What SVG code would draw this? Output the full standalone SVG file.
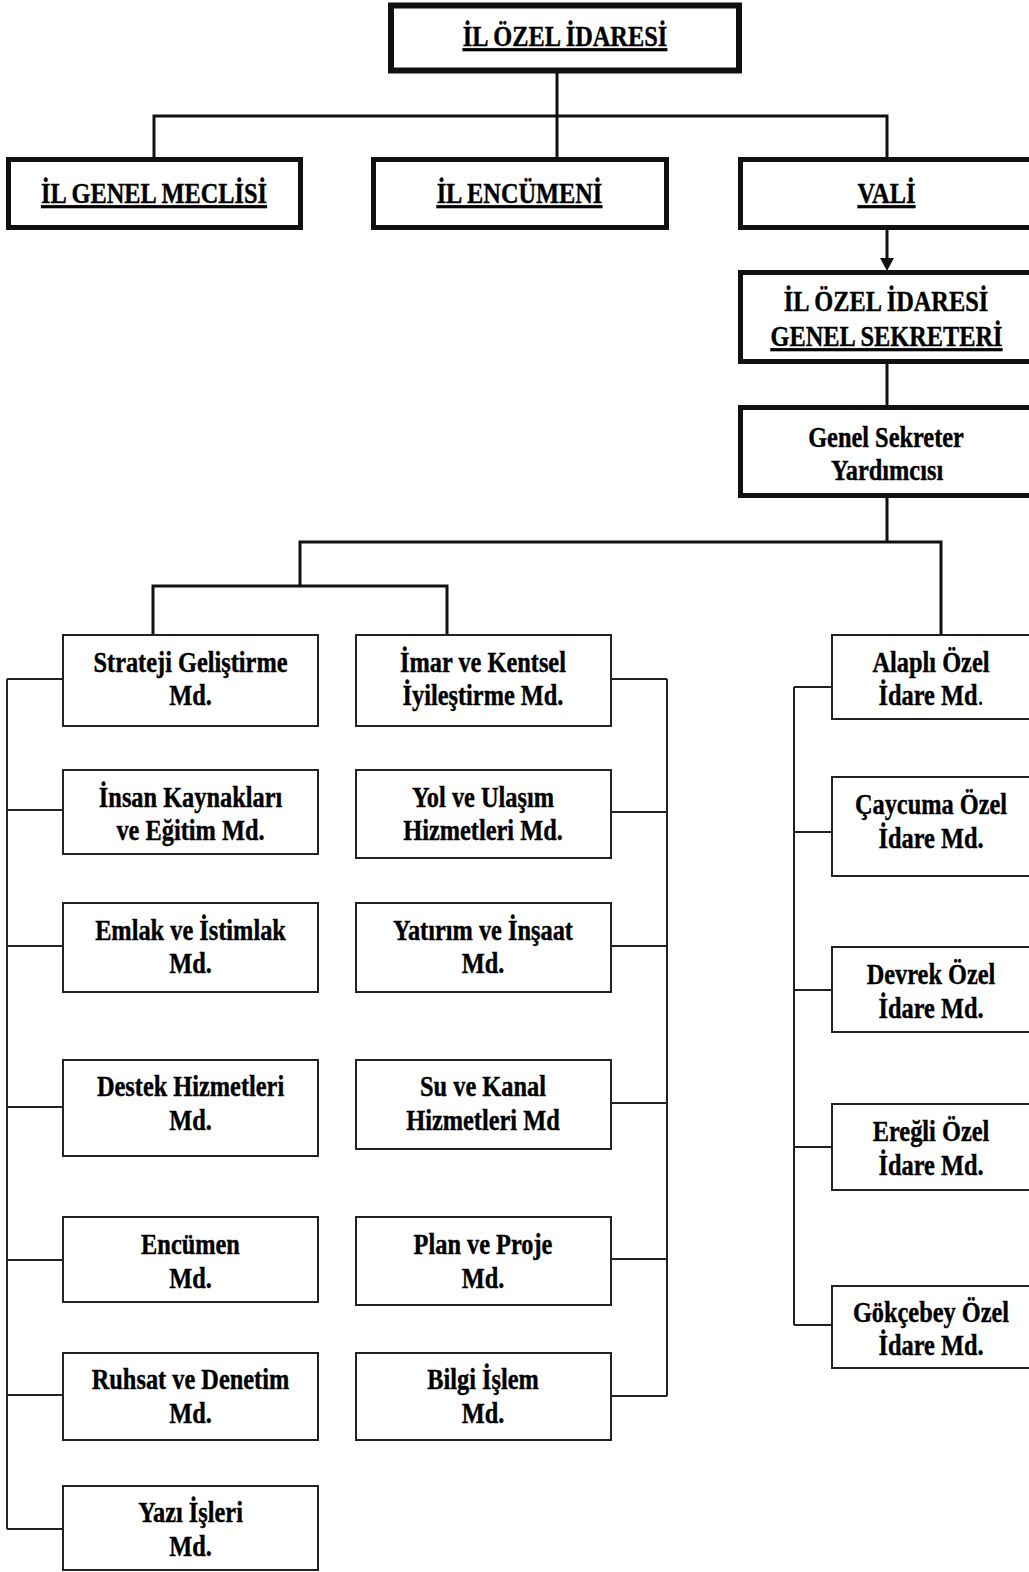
<svg xmlns="http://www.w3.org/2000/svg" width="1029" height="1572" viewBox="0 0 1029 1572">
<style>
  text { font-family: "Liberation Serif", "Times New Roman", serif; font-weight: bold; font-size: 29px; fill: #000; stroke: #000; stroke-width: 0.4; text-anchor: middle; transform-box: fill-box; transform-origin: center; transform: scaleX(0.84); }
  .u { text-decoration: underline; }
  .thick { fill: #fff; stroke: #111; stroke-width: 5; }
  .box { fill: #fff; stroke: #222; stroke-width: 2; }
  .c1 { fill: none; stroke: #111; stroke-width: 3; }
  .c2 { fill: none; stroke: #222; stroke-width: 2; }
</style>
<defs>
  <marker id="arr" markerUnits="userSpaceOnUse" markerWidth="14" markerHeight="14" refX="0" refY="7" orient="auto">
    <path d="M0,0 L13,7 L0,14 z" fill="#111"/>
  </marker>
</defs>
<rect width="1029" height="1572" fill="#fff"/>
<g id="connectors">
  <path class="c1" d="M557,73 V157"/>
  <path class="c1" d="M154,158 V116 H887 V158"/>
  <path class="c1" d="M887,230 V258" marker-end="url(#arr)"/>
  <path class="c1" d="M887,364 V405"/>
  <path class="c1" d="M887,498 V542"/>
  <path class="c1" d="M300,586 V542 H941 V634"/>
  <path class="c1" d="M153,634 V586 H447 V634"/>
  <path class="c2" d="M7,679 V1529 M7,679 H62 M7,810 H62 M7,946 H62 M7,1107 H62 M7,1260 H62 M7,1395 H62 M7,1529 H62"/>
  <path class="c2" d="M667,679 V1396 M612,679 H667 M612,812 H667 M612,946 H667 M612,1103 H667 M612,1259 H667 M612,1396 H667"/>
  <path class="c2" d="M794,687 V1325 M794,687 H831 M794,832 H831 M794,990 H831 M794,1147 H831 M794,1325 H831"/>
</g>
<g id="il-ozel-idaresi">
  <rect class="thick" x="391" y="5.5" width="348" height="65" style="stroke-width:6"/>
  <text class="u" x="565" y="46">İL ÖZEL İDARESİ</text>
</g>
<g id="il-genel-meclisi">
  <rect class="thick" x="8.5" y="159.5" width="292" height="68"/>
  <text class="u" x="154" y="203">İL GENEL MECLİSİ</text>
</g>
<g id="il-encumeni">
  <rect class="thick" x="373.5" y="159.5" width="293" height="68"/>
  <text class="u" x="519.5" y="203">İL ENCÜMENİ</text>
</g>
<g id="vali">
  <rect class="thick" x="740.5" y="159.5" width="300" height="68"/>
  <text class="u" x="886.5" y="203">VALİ</text>
</g>
<g id="genel-sekreter">
  <rect class="thick" x="740.5" y="272.5" width="300" height="89"/>
  <text x="886" y="311">İL ÖZEL İDARESİ</text>
  <text class="u" x="886.5" y="346">GENEL SEKRETERİ</text>
</g>
<g id="genel-sekreter-yardimcisi">
  <rect class="thick" x="740.5" y="407.5" width="300" height="88"/>
  <text x="886" y="447">Genel Sekreter</text>
  <text x="887" y="480">Yardımcısı</text>
</g>
<g id="strateji">
  <rect class="box" x="63" y="635" width="255" height="91"/>
  <text x="190.5" y="672">Strateji Geliştirme</text>
  <text x="190.5" y="705">Md.</text>
</g>
<g id="insan-kaynaklari">
  <rect class="box" x="63" y="770" width="255" height="84"/>
  <text x="190.5" y="807">İnsan Kaynakları</text>
  <text x="190.5" y="840">ve Eğitim Md.</text>
</g>
<g id="emlak">
  <rect class="box" x="63" y="903" width="255" height="89"/>
  <text x="190.5" y="940">Emlak ve İstimlak</text>
  <text x="190.5" y="973">Md.</text>
</g>
<g id="destek">
  <rect class="box" x="63" y="1060" width="255" height="96"/>
  <text x="190.5" y="1096">Destek Hizmetleri</text>
  <text x="190.5" y="1130">Md.</text>
</g>
<g id="encumen">
  <rect class="box" x="63" y="1217" width="255" height="85"/>
  <text x="190.5" y="1254">Encümen</text>
  <text x="190.5" y="1288">Md.</text>
</g>
<g id="ruhsat">
  <rect class="box" x="63" y="1353" width="255" height="87"/>
  <text x="190.5" y="1389">Ruhsat ve Denetim</text>
  <text x="190.5" y="1423">Md.</text>
</g>
<g id="yazi-isleri">
  <rect class="box" x="63" y="1486" width="255" height="84"/>
  <text x="190.5" y="1522">Yazı İşleri</text>
  <text x="190.5" y="1556">Md.</text>
</g>
<g id="imar">
  <rect class="box" x="356" y="635" width="255" height="91"/>
  <text x="483" y="672">İmar ve Kentsel</text>
  <text x="483" y="705">İyileştirme Md.</text>
</g>
<g id="yol">
  <rect class="box" x="356" y="770" width="255" height="88"/>
  <text x="483" y="807">Yol ve Ulaşım</text>
  <text x="483" y="840">Hizmetleri Md.</text>
</g>
<g id="yatirim">
  <rect class="box" x="356" y="903" width="255" height="89"/>
  <text x="483" y="940">Yatırım ve İnşaat</text>
  <text x="483" y="973">Md.</text>
</g>
<g id="su-kanal">
  <rect class="box" x="356" y="1060" width="255" height="89"/>
  <text x="483" y="1096">Su ve Kanal</text>
  <text x="483" y="1130">Hizmetleri Md</text>
</g>
<g id="plan-proje">
  <rect class="box" x="356" y="1217" width="255" height="88"/>
  <text x="483" y="1254">Plan ve Proje</text>
  <text x="483" y="1288">Md.</text>
</g>
<g id="bilgi-islem">
  <rect class="box" x="356" y="1353" width="255" height="87"/>
  <text x="483" y="1389">Bilgi İşlem</text>
  <text x="483" y="1423">Md.</text>
</g>
<g id="alapli">
  <rect class="box" x="832" y="635" width="210" height="84"/>
  <text x="931" y="672">Alaplı Özel</text>
  <text x="931" y="705">İdare Md<tspan font-weight="normal" stroke-width="0">.</tspan></text>
</g>
<g id="caycuma">
  <rect class="box" x="832" y="777" width="210" height="99"/>
  <text x="931" y="814">Çaycuma Özel</text>
  <text x="931" y="848">İdare Md.</text>
</g>
<g id="devrek">
  <rect class="box" x="832" y="947" width="210" height="85"/>
  <text x="931" y="984">Devrek Özel</text>
  <text x="931" y="1018">İdare Md.</text>
</g>
<g id="eregli">
  <rect class="box" x="832" y="1104" width="210" height="86"/>
  <text x="931" y="1141">Ereğli Özel</text>
  <text x="931" y="1175">İdare Md.</text>
</g>
<g id="gokcebey">
  <rect class="box" x="832" y="1286" width="210" height="82"/>
  <text x="931" y="1322">Gökçebey Özel</text>
  <text x="931" y="1355">İdare Md.</text>
</g>
</svg>
